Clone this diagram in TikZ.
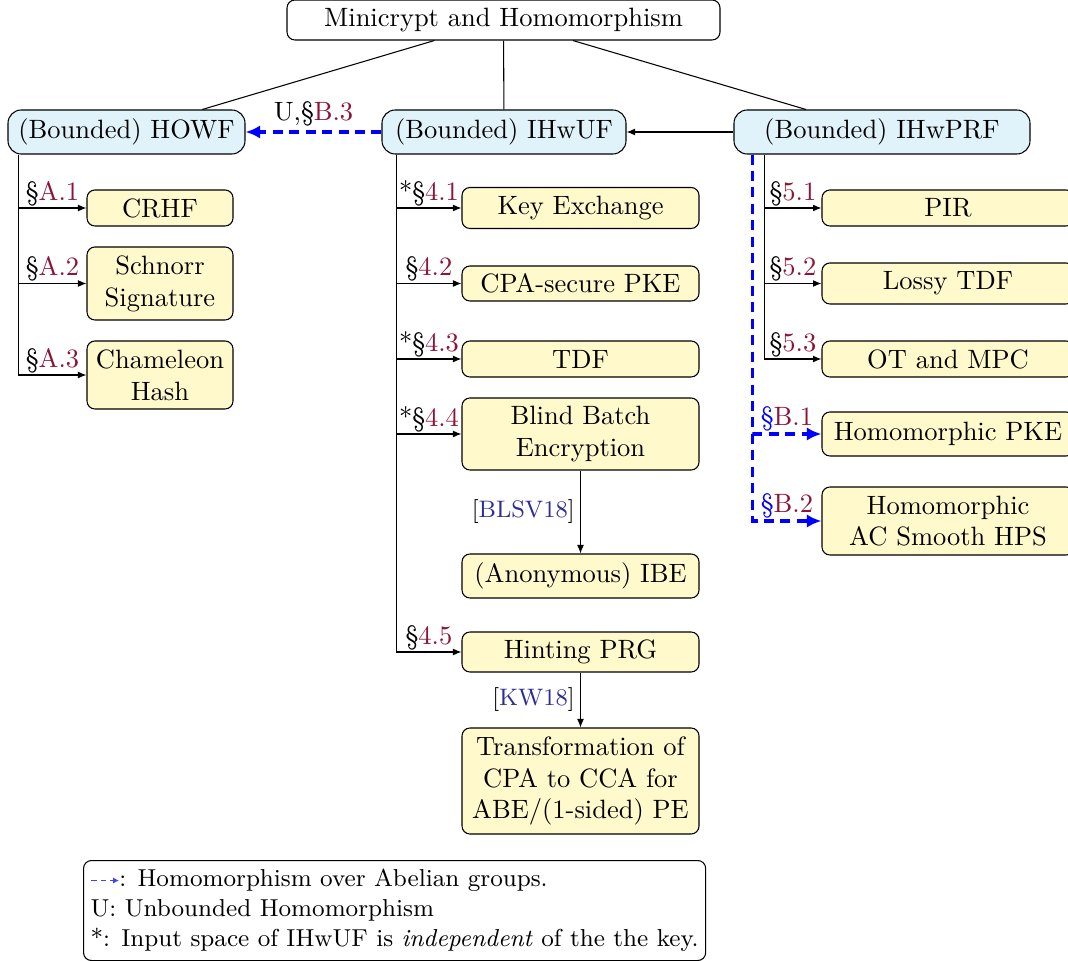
\documentclass[tikz,border=0pt]{standalone}
\usetikzlibrary{arrows.meta,calc}
\definecolor{refred}{RGB}{140,20,55}
\definecolor{citeblue}{RGB}{45,45,150}
\definecolor{boxyellow}{RGB}{255,249,204}
\definecolor{boxblue}{RGB}{224,242,250}
\def\PX{0.37736pt}
\begin{document}
\begin{tikzpicture}[x=0.37736pt, y=-0.37736pt,
  base/.style={draw, align=center, inner sep=0pt, line width=0.4pt},
  topbox/.style={base, fill=white, rounded corners=3pt},
  bluebox/.style={base, fill=boxblue, rounded corners=5pt, minimum height=44*\PX},
  ybox/.style={base, fill=boxyellow, rounded corners=3pt},
  lcol/.style={ybox, minimum width=146*\PX},
  mcol/.style={ybox, minimum width=237*\PX},
  rcol/.style={ybox, minimum width=252*\PX},
  conn/.style={-{Latex[length=3.2pt,width=2.6pt]}, line width=0.4pt},
  homo/.style={blue, line width=1.2pt, dash pattern=on 3.8pt off 2.4pt, -{Latex[length=5.5pt,width=5pt]}},
  lbl/.style={above, inner sep=0.6pt},
  cite/.style={left, font=\small, inner sep=2pt}
]
\useasboundingbox (0,0) rectangle (1068,961);

% top level
\node[topbox, minimum width=433*\PX, minimum height=40*\PX] (top) at (503.5,20) {Minicrypt and Homomorphism};
\node[bluebox, minimum width=237*\PX] (howf) at (126.5,132) {(Bounded) HOWF};
\node[bluebox, minimum width=244*\PX] (ihwuf) at (504,132) {(Bounded) IHwUF};
\node[bluebox, minimum width=296*\PX] (ihwprf) at (882,132) {(Bounded) IHwPRF};

\draw (top) -- (howf);
\draw (top) -- (ihwuf);
\draw (top) -- (ihwprf);
\draw[conn] (ihwprf) -- (ihwuf);
\draw[homo] (ihwuf) -- node[above, inner sep=1.5pt, text=black]{U,\S\textcolor{refred}{B.3}} (howf);

% left column
\node[lcol, minimum height=36*\PX] (crhf) at (160,208) {CRHF};
\node[lcol, minimum height=73*\PX] (schnorr) at (160,283.5) {Schnorr\\Signature};
\node[lcol, minimum height=68*\PX] (cham) at (160,375) {Chameleon\\Hash};

\draw[conn] ($(howf.south west)+(11,0)$) |- node[lbl,pos=0.75]{\S\textcolor{refred}{A.1}} (crhf.west);
\draw[conn] ($(howf.south west)+(11,0)$) |- node[lbl,pos=0.75]{\S\textcolor{refred}{A.2}} (schnorr.west);
\draw[conn] ($(howf.south west)+(11,0)$) |- node[lbl,pos=0.75]{\S\textcolor{refred}{A.3}} (cham.west);

% middle column
\node[mcol, minimum height=41*\PX] (kex) at (580.5,208) {Key Exchange};
\node[mcol, minimum height=35*\PX] (cpa) at (580.5,283.5) {CPA-secure PKE};
\node[mcol, minimum height=36*\PX] (tdf) at (580.5,359) {TDF};
\node[mcol, minimum height=72*\PX] (bbe) at (580.5,434) {Blind Batch\\Encryption};
\node[mcol, minimum height=44*\PX] (ibe) at (580.5,576) {(Anonymous) IBE};
\node[mcol, minimum height=40*\PX] (hprg) at (580.5,652) {Hinting PRG};
\node[mcol, minimum height=106*\PX] (trans) at (580.5,781) {Transformation of\\CPA to CCA for\\ABE/(1-sided) PE};

\draw[conn] ($(ihwuf.south west)+(15,0)$) |- node[lbl,pos=0.75]{*\S\textcolor{refred}{4.1}} (kex.west);
\draw[conn] ($(ihwuf.south west)+(15,0)$) |- node[lbl,pos=0.75]{\S\textcolor{refred}{4.2}} (cpa.west);
\draw[conn] ($(ihwuf.south west)+(15,0)$) |- node[lbl,pos=0.75]{*\S\textcolor{refred}{4.3}} (tdf.west);
\draw[conn] ($(ihwuf.south west)+(15,0)$) |- node[lbl,pos=0.75]{*\S\textcolor{refred}{4.4}} (bbe.west);
\draw[conn] ($(ihwuf.south west)+(15,0)$) |- node[lbl,pos=0.75]{\S\textcolor{refred}{4.5}} (hprg.west);
\draw[conn] (bbe) -- node[cite]{[\textcolor{citeblue}{BLSV18}]} (ibe);
\draw[conn] (hprg) -- node[cite]{[\textcolor{citeblue}{KW18}]} (trans);

% right column
\node[rcol, minimum height=36*\PX] (pir) at (948,208) {PIR};
\node[rcol, minimum height=41*\PX] (lossy) at (948,283.5) {Lossy TDF};
\node[rcol, minimum height=36*\PX] (ot) at (948,359) {OT and MPC};
\node[rcol, minimum height=44*\PX] (hpke) at (948,434) {Homomorphic PKE};
\node[rcol, minimum height=68*\PX] (hps) at (948,521) {Homomorphic\\AC Smooth HPS};

\draw[conn] ($(ihwprf.south west)+(31,0)$) |- node[lbl,pos=0.75]{\S\textcolor{refred}{5.1}} (pir.west);
\draw[conn] ($(ihwprf.south west)+(31,0)$) |- node[lbl,pos=0.75]{\S\textcolor{refred}{5.2}} (lossy.west);
\draw[conn] ($(ihwprf.south west)+(31,0)$) |- node[lbl,pos=0.75]{\S\textcolor{refred}{5.3}} (ot.west);
\draw[homo] ($(ihwprf.south west)+(19,0)$) |- node[lbl,pos=0.75]{\S\textcolor{refred}{B.1}} (hpke.west);
\draw[homo] ($(ihwprf.south west)+(19,0)$) |- node[lbl,pos=0.75]{\S\textcolor{refred}{B.2}} (hps.west);

% legend
\node[draw, rounded corners=3pt, anchor=north west, inner xsep=7*\PX, inner ysep=0pt,
      minimum height=100*\PX, align=left, font=\fontsize{9.24pt}{11.3pt}\selectfont, line width=0.4pt] (legend) at (83,860)
  {\tikz[baseline=-0.6ex]\draw[blue!75, line width=0.4pt, dash pattern=on 2.2pt off 1.4pt, -{Latex[length=2.2pt,width=2.4pt]}] (0pt,0pt) -- (10.5pt,0pt);: Homomorphism over Abelian groups.\\
   U: Unbounded Homomorphism\\
   {*}: Input space of IHwUF is \emph{independent} of the the key.};
\end{tikzpicture}
\end{document}
